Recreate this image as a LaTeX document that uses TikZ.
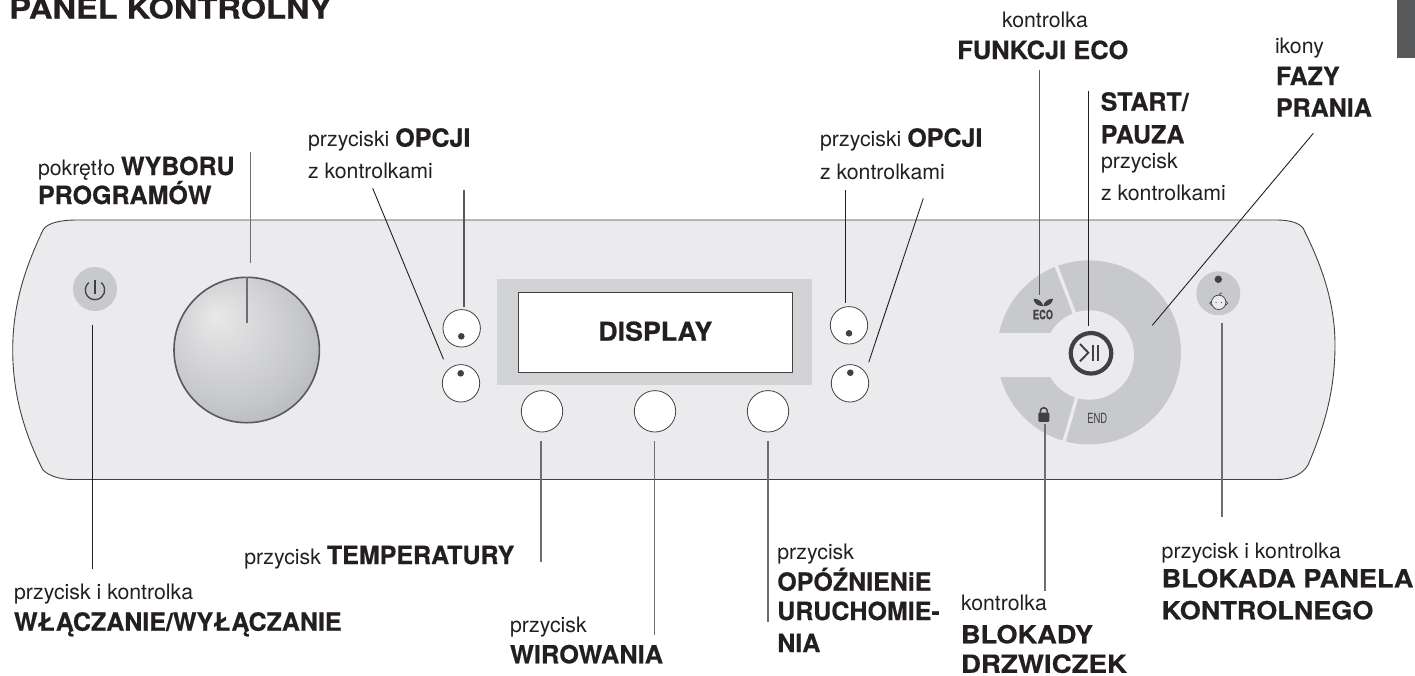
\documentclass[tikz,border=0pt]{standalone}
\usepackage{graphicx}
\usepackage{fontspec}
\setmainfont[BoldFeatures={FakeBold=0.5}]{TeX Gyre Heros}
\usetikzlibrary{calc}
\definecolor{panelc}{HTML}{EBEBED}
\definecolor{ringc}{HTML}{C8C9CB}
\definecolor{framec}{HTML}{D1D3D4}
\definecolor{inkc}{HTML}{231F20}
\definecolor{iconc}{HTML}{414042}
\definecolor{midc}{HTML}{6D6E71}
\definecolor{tabc}{HTML}{58595B}
\definecolor{knobA}{HTML}{E8E8E9}
\definecolor{knobB}{HTML}{C6C7C9}
\definecolor{knobC}{HTML}{97999C}
\pgfdeclareradialshading{knobshade}{\pgfpoint{-11bp}{12bp}}{color(0bp)=(knobA); color(25bp)=(knobB); color(50bp)=(knobC)}
\newcommand\txr{\fontsize{21.3}{24}\selectfont}
\newcommand\txb{\fontsize{25}{28}\selectfont\bfseries}
\newcommand\fitw[2]{\resizebox{#1pt}{\height}{#2}}
\tikzset{
  x=1pt,y=-1pt,
  lab/.style={anchor=base west,inner sep=0pt,outer sep=0pt,text=inkc,font=\txr},
  labb/.style={lab,font=\txb},
  btn/.style={circle,draw=iconc,line width=0.8pt,fill=white,inner sep=0pt,minimum size=37.4pt},
  btnbig/.style={btn,minimum size=41.4pt},
  grayb/.style={circle,fill=ringc,inner sep=0pt,minimum size=44pt},
  dot/.style={circle,fill=iconc,inner sep=0pt,minimum size=6.6pt},
  thinl/.style={draw=inkc,line width=0.9pt},
  grayl/.style={draw=midc,line width=1.3pt},
  darkl/.style={draw=tabc,line width=1.7pt},
  icon/.style={draw=iconc,line width=1.3pt},
}
\begin{document}
\begin{tikzpicture}
\useasboundingbox (0,0) rectangle (1415,675);
% tab
\fill[tabc] (1396.7,0) rectangle (1415,58);
% panel
\path[fill=panelc,draw=iconc,line width=0.9pt]
  (77,220) -- (1277,220) .. controls (1290,220) and (1299,223) .. (1303,228)
  .. controls (1320,262) and (1335,300) .. (1335,345)
  .. controls (1335,395) and (1322,432) .. (1308,465)
  .. controls (1302,475) and (1290,479.5) .. (1277,479.5)
  -- (73,479.5) .. controls (58,479.5) and (48,475) .. (43,470)
  .. controls (25,435) and (12.7,395) .. (12.7,350)
  .. controls (12.7,300) and (28,262) .. (43,230)
  .. controls (47,223) and (60,220) .. (77,220) -- cycle;
% power
\node[grayb] (power) at (95,289) {};
\draw[icon] (88.76,282.57) arc[start angle=130,end angle=410,radius=9.7pt];
\draw[icon] (95,279.5) -- (95,294);
% knob
\node[circle,inner sep=0pt,minimum size=145.4pt] (knob) at (246.7,350) {};
\shade[shading=knobshade] (246.7,350) circle[radius=72.7pt];
\draw[draw=tabc,line width=1.6pt] (246.7,350) circle[radius=72.7pt];
\draw[midc,line width=1.8pt] (247,277) -- (247,322.7);
% display
\node[fill=framec,inner sep=0pt,minimum width=315pt,minimum height=106pt] (frame) at (654.5,332) {};
\node[fill=white,draw=iconc,line width=0.8pt,inner sep=0pt,minimum width=273.7pt,minimum height=80pt] (screen) at (655.2,332.3) {};
\node[lab,font=\fontsize{26}{28}\selectfont\bfseries] (disp) at (598.3,340.7) {\fitw{114}{DISPLAY}};
% buttons
\node[btn] (optA) at (461.7,328.3) {};
\node[dot] (optAd) at (461.3,336.3) {};
\node[btn] (optB) at (461,383.3) {};
\node[dot] (optBd) at (460.7,373.3) {};
\node[btn] (optC) at (849,325.3) {};
\node[dot] (optCd) at (849,333.3) {};
\node[btn] (optD) at (850,383.3) {};
\node[dot] (optDd) at (850.3,372.7) {};
\node[btnbig] (temp) at (542,411.3) {};
\node[btnbig] (spin) at (655,411.3) {};
\node[btnbig] (delay) at (768,411.3) {};
% dial
\begin{scope}
\clip (980,250) rectangle (1200,460);
\fill[ringc] (1089,352.4) circle[radius=92pt];
\draw[panelc,line width=3.4pt] (1050,249.8) -- (1079,325);
\draw[panelc,line width=3.4pt] (1061,452) -- (1080,386);
\fill[panelc] (985,333.3) rectangle (1060,376.7);
\fill[panelc] (1089.3,355) circle[radius=44.7pt];
\end{scope}
\node[circle,draw=iconc,line width=4.2pt,inner sep=0pt,minimum size=40.5pt] (startb) at (1091,353.3) {};
\draw[icon,line width=1.9pt] (1080,344) -- (1088.3,352.7) -- (1080,361.3);
\draw[icon,line width=2pt] (1092.7,345) -- (1092.7,360.7);
\draw[icon,line width=2pt] (1098,345) -- (1098,360.7);
% eco
\fill[iconc] (1033.5,298.7) .. controls (1039,298.7) and (1042.5,302) .. (1043.2,306.2) .. controls (1037,306.2) and (1034,303) .. cycle;
\fill[iconc] (1053,298.7) .. controls (1047.5,298.7) and (1044,302) .. (1043.2,306.2) .. controls (1049.5,306.2) and (1052.5,303) .. cycle;
\node[lab,font=\fontsize{13}{14}\selectfont\bfseries,text=iconc] (eco) at (1033,319.3) {\fitw{20}{ECO}};
\node[lab,font=\fontsize{14}{15}\selectfont,text=iconc] (endt) at (1087.3,423.3) {\fitw{20}{END}};
% lock
\fill[iconc,rounded corners=1pt] (1038.3,412.7) rectangle (1049.3,421.8);
\draw[iconc,line width=1.5pt] (1040.3,413) -- (1040.3,411.2) arc[start angle=180,end angle=0,radius=3.5pt] -- (1047.3,413);
% child lock
\node[grayb] (child) at (1218.3,293.3) {};
\node[dot,minimum size=7.4pt] (childd) at (1218.3,279.3) {};
\draw[iconc,line width=0.7pt,fill=panelc] (1211.6,303.2) circle[radius=1.9pt];
\draw[iconc,line width=0.7pt,fill=panelc] (1225.8,303.2) circle[radius=1.9pt];
\draw[iconc,line width=0.7pt,fill=panelc] (1218.7,302.3) circle[radius=7.2pt];
\draw[iconc,line width=0.7pt] (1219.2,295.1) .. controls (1219.6,293.6) and (1220.5,293) .. (1221.8,293);
\fill[iconc] (1216,302.6) circle[radius=0.6pt] (1221.4,302.6) circle[radius=0.6pt];
% labels
\node[lab,font=\fontsize{29}{30}\selectfont\bfseries] (title) at (9.3,18.5) {\fitw{322}{PANEL KONTROLNY}};
\node[lab] (l1a) at (1002,27.3) {kontrolka};
\node[labb] (l1b) at (957.3,59) {\fitw{171}{FUNKCJI ECO}};
\node[lab] (l2a) at (1275,53.3) {ikony};
\node[labb] (l2b) at (1276,85) {FAZY};
\node[labb] (l2c) at (1276,116.7) {PRANIA};
\node[labb] (l3a) at (1100.7,110.7) {START/};
\node[labb] (l3b) at (1100.7,143.3) {PAUZA};
\node[lab] (l3c) at (1101,168.3) {przycisk};
\node[lab] (l3d) at (1101,200.7) {z kontrolkami};
\node[lab] (l4a) at (308,146.7) {przyciski {\txb OPCJI}};
\node[lab] (l4b) at (308,178.7) {z kontrolkami};
\node[lab] (l5a) at (820,146.7) {przyciski {\txb OPCJI}};
\node[lab] (l5b) at (820,179) {z kontrolkami};
\node[lab] (l6a) at (38,175) {pokrętło {\txb WYBORU}};
\node[labb] (l6b) at (38,204) {PROGRAMÓW};
\node[lab] (l7a) at (14,599.3) {przycisk i kontrolka};
\node[labb] (l7b) at (14,630.7) {WŁĄCZANIE/WYŁĄCZANIE};
\node[lab] (l8) at (244.3,564) {przycisk {\txb TEMPERATURY}};
\node[lab] (l9a) at (510,632.7) {przycisk};
\node[labb] (l9b) at (510,663.3) {\fitw{153}{WIROWANIA}};
\node[lab] (l10a) at (777.3,559.3) {przycisk};
\node[labb] (l10b) at (777.3,590.7) {OPÓŹNIENiE};
\node[labb] (l10c) at (777.3,620) {URUCHOMIE-};
\node[labb] (l10d) at (777.3,652) {NIA};
\node[lab] (l11a) at (961,610.7) {kontrolka};
\node[labb] (l11b) at (961,643.3) {\fitw{132}{BLOKADY}};
\node[labb] (l11c) at (961,672.8) {\fitw{166}{DRZWICZEK}};
\node[lab] (l12a) at (1161.7,558.3) {przycisk i kontrolka};
\node[labb] (l12b) at (1161.7,587.3) {\fitw{251.7}{BLOKADA PANELA}};
\node[labb] (l12c) at (1161.7,619.3) {\fitw{211.7}{KONTROLNEGO}};
% connector ends
\coordinate (kT) at (250.7,151.7); \coordinate (kB) at (250.7,263.3);
\coordinate (pT) at (92.7,324.5); \coordinate (pB) at (92.7,569.3);
\coordinate (aT) at (464,190); \coordinate (aB) at (464,306.7);
\coordinate (bT) at (372.7,188.3); \coordinate (bB) at (443.5,359.3);
\coordinate (cT) at (845.7,190); \coordinate (cB) at (845.7,303);
\coordinate (dT) at (923.3,198.3); \coordinate (dB) at (868.7,362.3);
\coordinate (eT) at (1039.5,70); \coordinate (eB) at (1039.5,295);
\coordinate (sT) at (1088.3,90.7); \coordinate (sB) at (1088.3,325.7);
\coordinate (fT) at (1313.3,133.3); \coordinate (fB) at (1152.3,325.3);
\coordinate (tT) at (541,441); \coordinate (tB) at (541,562.3);
\coordinate (wT) at (654.7,441); \coordinate (wB) at (654.7,635.3);
\coordinate (oT) at (768,441); \coordinate (oB) at (768,621.7);
\coordinate (lT) at (1044.7,423.5); \coordinate (lB) at (1044.7,590.7);
\coordinate (cdT) at (1221.7,323); \coordinate (cdB) at (1221.7,517.3);
% connectors
\draw[grayl] (kT) -- (kB);
\draw[thinl] (pT) -- (pB);
\draw[darkl] (aT) -- (aB);
\draw[thinl] (bT) -- (bB);
\draw[thinl] (cT) -- (cB);
\draw[thinl] (dT) -- (dB);
\draw[darkl] (eT) -- (eB);
\draw[thinl,line width=1.1pt] (sT) -- (sB);
\draw[thinl] (fT) -- (fB);
\draw[grayl] (tT) -- (tB);
\draw[grayl] (wT) -- (wB);
\draw[grayl,line width=1.1pt] (oT) -- (oB);
\draw[grayl,line width=1.6pt] (lT) -- (lB);
\draw[grayl,line width=1.6pt] (cdT) -- (cdB);
\end{tikzpicture}
\end{document}
